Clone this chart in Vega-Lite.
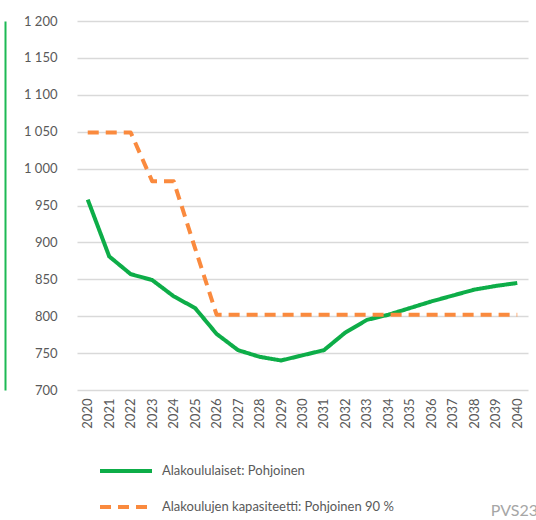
{
  "$schema": "https://vega.github.io/schema/vega-lite/v6.json",
  "width": 451,
  "height": 369,
  "autosize": {"type": "none"},
  "padding": {"left": 77, "top": 21, "right": 8, "bottom": 130},
  "background": "white",
  "config": {
    "font": "Lato",
    "view": {"stroke": null},
    "locale": {"number": {"decimal": ",", "thousands": " ", "grouping": [3], "currency": ["", " €"]}}
  },
  "title": {"text": "PVS23", "orient": "bottom", "anchor": "end", "offset": -12, "dx": 10, "fontSize": 16, "fontWeight": "normal", "color": "#A6A6A6", "font": "Lato"},
  "data": {"values": [
    {"year": "2020", "series": "Alakoululaiset: Pohjoinen", "value": 958},
    {"year": "2021", "series": "Alakoululaiset: Pohjoinen", "value": 881},
    {"year": "2022", "series": "Alakoululaiset: Pohjoinen", "value": 857},
    {"year": "2023", "series": "Alakoululaiset: Pohjoinen", "value": 849},
    {"year": "2024", "series": "Alakoululaiset: Pohjoinen", "value": 827},
    {"year": "2025", "series": "Alakoululaiset: Pohjoinen", "value": 811},
    {"year": "2026", "series": "Alakoululaiset: Pohjoinen", "value": 776},
    {"year": "2027", "series": "Alakoululaiset: Pohjoinen", "value": 754},
    {"year": "2028", "series": "Alakoululaiset: Pohjoinen", "value": 745},
    {"year": "2029", "series": "Alakoululaiset: Pohjoinen", "value": 740},
    {"year": "2030", "series": "Alakoululaiset: Pohjoinen", "value": 747},
    {"year": "2031", "series": "Alakoululaiset: Pohjoinen", "value": 754},
    {"year": "2032", "series": "Alakoululaiset: Pohjoinen", "value": 778},
    {"year": "2033", "series": "Alakoululaiset: Pohjoinen", "value": 795},
    {"year": "2034", "series": "Alakoululaiset: Pohjoinen", "value": 802},
    {"year": "2035", "series": "Alakoululaiset: Pohjoinen", "value": 811},
    {"year": "2036", "series": "Alakoululaiset: Pohjoinen", "value": 820},
    {"year": "2037", "series": "Alakoululaiset: Pohjoinen", "value": 828},
    {"year": "2038", "series": "Alakoululaiset: Pohjoinen", "value": 836},
    {"year": "2039", "series": "Alakoululaiset: Pohjoinen", "value": 841},
    {"year": "2040", "series": "Alakoululaiset: Pohjoinen", "value": 845},
    {"year": "2020", "series": "Alakoulujen  kapasiteetti: Pohjoinen 90 %", "value": 1049},
    {"year": "2021", "series": "Alakoulujen  kapasiteetti: Pohjoinen 90 %", "value": 1049},
    {"year": "2022", "series": "Alakoulujen  kapasiteetti: Pohjoinen 90 %", "value": 1049},
    {"year": "2023", "series": "Alakoulujen  kapasiteetti: Pohjoinen 90 %", "value": 983},
    {"year": "2024", "series": "Alakoulujen  kapasiteetti: Pohjoinen 90 %", "value": 983},
    {"year": "2025", "series": "Alakoulujen  kapasiteetti: Pohjoinen 90 %", "value": 892},
    {"year": "2026", "series": "Alakoulujen  kapasiteetti: Pohjoinen 90 %", "value": 802},
    {"year": "2027", "series": "Alakoulujen  kapasiteetti: Pohjoinen 90 %", "value": 802},
    {"year": "2028", "series": "Alakoulujen  kapasiteetti: Pohjoinen 90 %", "value": 802},
    {"year": "2029", "series": "Alakoulujen  kapasiteetti: Pohjoinen 90 %", "value": 802},
    {"year": "2030", "series": "Alakoulujen  kapasiteetti: Pohjoinen 90 %", "value": 802},
    {"year": "2031", "series": "Alakoulujen  kapasiteetti: Pohjoinen 90 %", "value": 802},
    {"year": "2032", "series": "Alakoulujen  kapasiteetti: Pohjoinen 90 %", "value": 802},
    {"year": "2033", "series": "Alakoulujen  kapasiteetti: Pohjoinen 90 %", "value": 802},
    {"year": "2034", "series": "Alakoulujen  kapasiteetti: Pohjoinen 90 %", "value": 802},
    {"year": "2035", "series": "Alakoulujen  kapasiteetti: Pohjoinen 90 %", "value": 802},
    {"year": "2036", "series": "Alakoulujen  kapasiteetti: Pohjoinen 90 %", "value": 802},
    {"year": "2037", "series": "Alakoulujen  kapasiteetti: Pohjoinen 90 %", "value": 802},
    {"year": "2038", "series": "Alakoulujen  kapasiteetti: Pohjoinen 90 %", "value": 802},
    {"year": "2039", "series": "Alakoulujen  kapasiteetti: Pohjoinen 90 %", "value": 802},
    {"year": "2040", "series": "Alakoulujen  kapasiteetti: Pohjoinen 90 %", "value": 802}
  ]},
  "layer": [
    {
      "mark": {"type": "line", "strokeWidth": 4, "strokeJoin": "round", "strokeCap": "butt"},
      "encoding": {
        "x": {"field": "year", "type": "ordinal", "scale": {"type": "point", "padding": 0.5},
          "axis": {"title": null, "labelAngle": -90, "labelFontSize": 13, "labelColor": "#595959", "ticks": false, "domain": false, "labelPadding": 8}},
        "y": {"field": "value", "type": "quantitative", "scale": {"domain": [700, 1200], "nice": false, "zero": false},
          "axis": {"title": null, "values": [700, 750, 800, 850, 900, 950, 1000, 1050, 1100, 1150, 1200], "format": ",d", "labelFontSize": 13, "labelColor": "#595959", "ticks": false, "domain": false, "labelPadding": 20, "gridColor": "#D9D9D9", "gridWidth": 1.5}},
        "color": {"field": "series", "type": "nominal",
          "scale": {"domain": ["Alakoululaiset: Pohjoinen", "Alakoulujen  kapasiteetti: Pohjoinen 90 %"], "range": ["#0DAD48", "#FA8A3E"]},
          "legend": {"title": null, "orient": "none", "legendX": 21, "legendY": 422, "direction": "vertical", "symbolType": "stroke", "symbolSize": 2704, "symbolStrokeWidth": 4, "labelFontSize": 13, "labelColor": "#595959", "labelOffset": 8, "labelLimit": 0, "rowPadding": -16, "padding": 0}},
        "strokeDash": {"field": "series", "type": "nominal",
          "scale": {"domain": ["Alakoululaiset: Pohjoinen", "Alakoulujen  kapasiteetti: Pohjoinen 90 %"], "range": [[1, 0], [11, 7]]},
          "legend": {"title": null, "orient": "none", "legendX": 21, "legendY": 422, "direction": "vertical", "symbolType": "stroke", "symbolSize": 2704, "symbolStrokeWidth": 4, "labelFontSize": 13, "labelColor": "#595959", "labelOffset": 8, "labelLimit": 0, "rowPadding": -16, "padding": 0}}
      }
    },
    {
      "mark": {"type": "line", "opacity": 0},
      "encoding": {
        "x": {"field": "year", "type": "ordinal"},
        "y": {"field": "value", "type": "quantitative",
          "axis": {"orient": "left", "offset": 72, "labels": false, "ticks": false, "grid": false, "title": null, "domain": true, "domainColor": "#1DB954", "domainWidth": 2}}
      }
    }
  ],
  "resolve": {"axis": {"y": "independent"}}
}
